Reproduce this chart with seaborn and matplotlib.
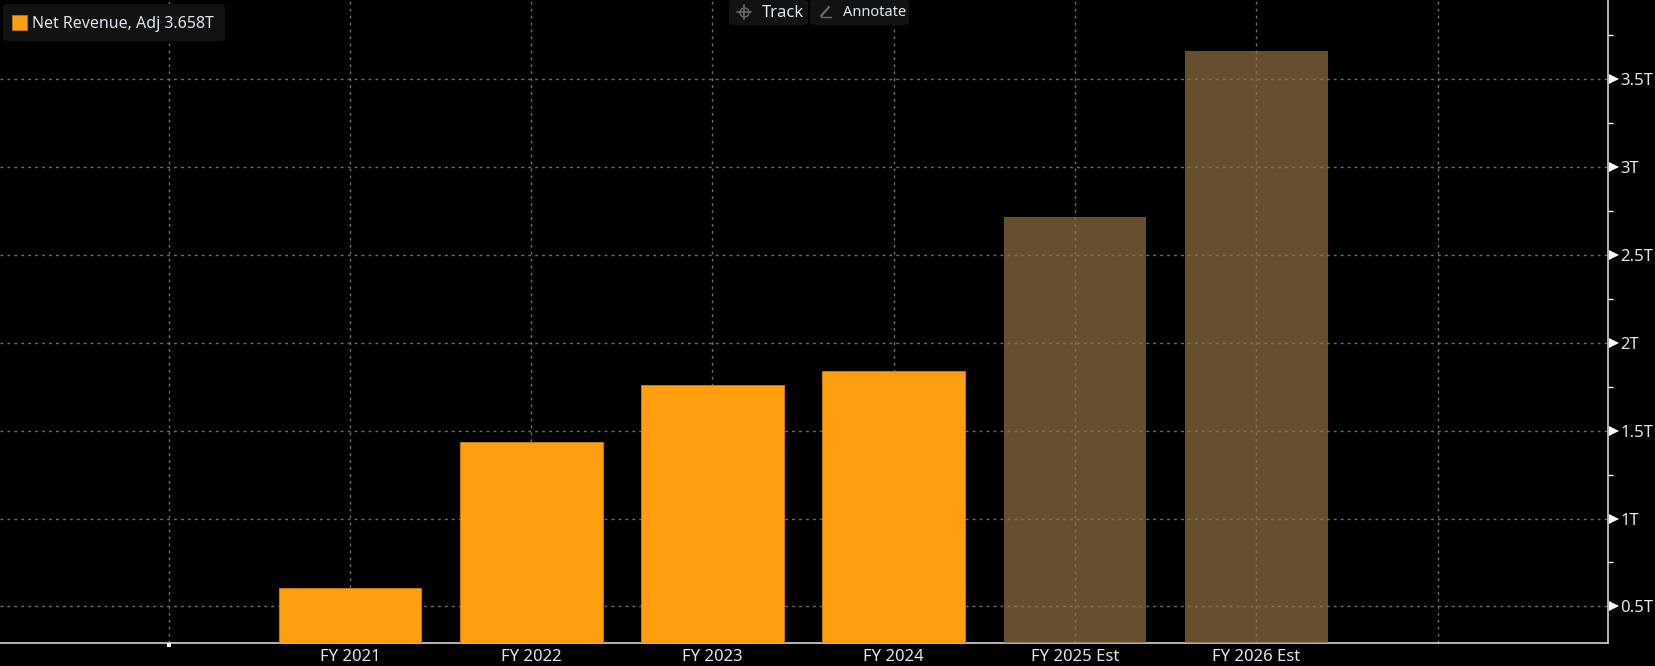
#!/usr/bin/env python3
import matplotlib
matplotlib.use('Agg')
import matplotlib.pyplot as plt
import seaborn as sns
from matplotlib.lines import Line2D
from matplotlib.patches import FancyBboxPatch

years = ['FY 2021', 'FY 2022', 'FY 2023', 'FY 2024', 'FY 2025 Est', 'FY 2026 Est']
revenue = [0.605, 1.436, 1.762, 1.84, 2.715, 3.658]
status = ['actual', 'actual', 'actual', 'actual', 'estimate', 'estimate']
major_ticks = [0.5, 1, 1.5, 2, 2.5, 3, 3.5]
major_labels = ['0.5T', '1T', '1.5T', '2T', '2.5T', '3T', '3.5T']
minor_ticks = [0.75, 1.25, 1.75, 2.25, 2.75, 3.25, 3.75]

ORANGE = '#ff9f10'
EST = '#927242'   # drawn with alpha so the grid shows through, reads as dull brown
TEXT = '#dde6ee'
LINE = '#c4c4c4'
GRID = '#6e6e6e'
FS = 12

sns.set_theme(style='dark', rc={'axes.facecolor': 'black', 'figure.facecolor': 'black'})
plt.rcParams['font.family'] = ['Noto Sans', 'DejaVu Sans']

fig = plt.figure(figsize=(16.55, 6.66), dpi=100)
ax = fig.add_axes([0, 23.5 / 666, 1608 / 1655, 1 - 23.5 / 666])

sns.barplot(x=years, y=revenue, hue=status, palette={'actual': ORANGE, 'estimate': EST},
            dodge=False, width=0.787, legend=False, saturation=1, ax=ax, zorder=3)
for bar in ax.patches:
    is_est = bar.get_height() > 2
    bar.set_alpha(0.7 if is_est else 1)
    bar.set_edgecolor('none' if is_est else '#c27a0a')
    bar.set_linewidth(0 if is_est else 0.7)

# the axis does not start at zero
ax.set_xlim(-1.93, 6.94)
ax.set_ylim(0.295, 3.949)

ax.set_xticks(range(-1, 7))
ax.set_xticklabels([''] + years + [''], color=TEXT, fontsize=FS)
ax.yaxis.tick_right()
ax.set_yticks(major_ticks)
ax.set_yticklabels(major_labels, color=TEXT, fontsize=FS)
ax.set_yticks(minor_ticks, minor=True)
ax.tick_params(axis='x', length=3, width=1, color='white', pad=1.5)
ax.tick_params(axis='y', which='major', length=0, pad=9)
ax.tick_params(axis='y', which='minor', length=3.5, width=1, color='white')

ax.grid(True, which='major', color=GRID, linestyle=(0, (2, 3)), linewidth=1)
ax.set_axisbelow(True)

for side in ['top', 'left']:
    ax.spines[side].set_visible(False)
for side in ['right', 'bottom']:
    ax.spines[side].set_color(LINE)
    ax.spines[side].set_linewidth(1.3)

# white pointers on the major y ticks
ax.plot([1.0035] * len(major_ticks), major_ticks, marker='>', markersize=7.5, color='white',
        linestyle='none', markeredgewidth=0, transform=ax.get_yaxis_transform(),
        clip_on=False, zorder=5)

# square marker at the left end of the x axis
ax.plot([-1], [-0.004], marker='s', markersize=3, color='white', linestyle='none',
        markeredgewidth=0, clip_on=False, zorder=5, transform=ax.get_xaxis_transform())


def to_fig(x, y):
    return x / 1655, 1 - y / 666


def panel(x0, y0, x1, y1):
    fx0, fy1 = to_fig(x0, y1)
    fx1, fy0 = to_fig(x1, y0)
    fig.add_artist(FancyBboxPatch((fx0, fy1), fx1 - fx0, fy0 - fy1, transform=fig.transFigure,
                                  boxstyle='round,pad=0,rounding_size=0.003', facecolor='#121212',
                                  edgecolor='none', zorder=6))


def icon_line(xs, ys, width=1.2):
    pts = [to_fig(x, y) for x, y in zip(xs, ys)]
    fig.add_artist(Line2D([p[0] for p in pts], [p[1] for p in pts], color='#6a6a6a', linewidth=width,
                          transform=fig.transFigure, zorder=7))


# legend box
panel(3, 4, 225, 41)
fx, fy = to_fig(12, 15)
fig.add_artist(plt.Rectangle((fx, fy - 15 / 666), 15 / 1655, 15 / 666, transform=fig.transFigure,
                             facecolor=ORANGE, edgecolor='#b87510', linewidth=0.6, zorder=7))
fig.text(*to_fig(32, 24), 'Net Revenue, Adj 3.658T', color=TEXT, fontsize=11.5, va='center', zorder=7)

# chart toolbar buttons
panel(729, 0, 808, 25)
panel(810, 0, 909, 25)
cx, cy = to_fig(744, 12)
fig.add_artist(Line2D([cx], [cy], marker='o', markersize=6.5, markerfacecolor='none',
                      markeredgecolor='#6a6a6a', markeredgewidth=1, transform=fig.transFigure, zorder=7))
icon_line([737, 751], [12, 12])
icon_line([744, 744], [5, 19])
fig.text(*to_fig(762, 13), 'Track', color=TEXT, fontsize=FS, va='center', zorder=7)
icon_line([821, 829], [16, 7], width=1.6)
icon_line([821, 831], [17, 17], width=1)
fig.text(*to_fig(843, 13), 'Annotate', color=TEXT, fontsize=10.5, va='center', zorder=7)

fig.savefig('out.png', dpi=100, facecolor='black')
plt.close(fig)
